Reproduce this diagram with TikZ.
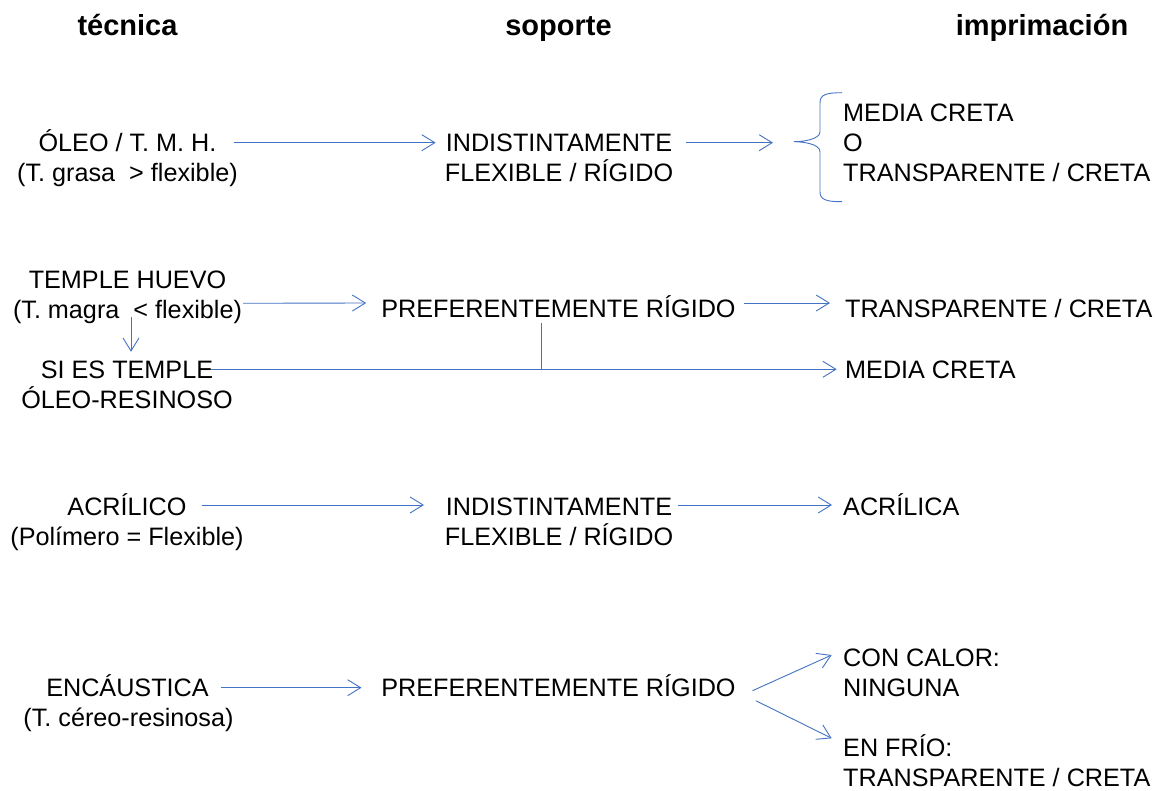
\documentclass[tikz,border=0pt]{standalone}
\usepackage{fontspec}
\setmainfont{Liberation Sans}
\usetikzlibrary{arrows.meta,calc}
\definecolor{arrowblue}{RGB}{68,114,196}
\newcommand\myBody{\fontsize{25.2}{30}\selectfont}
\newcommand\myHead{\fontsize{29}{32}\selectfont\bfseries}
\begin{document}
\begin{tikzpicture}[x=1pt,y=-1pt,
  txt/.style={inner sep=0pt, anchor=base, font=\myBody},
  txtw/.style={inner sep=0pt, anchor=base west, font=\myBody},
  hdr/.style={inner sep=0pt, anchor=base, font=\myHead},
  ln/.style={draw=arrowblue, line width=0.9pt},
  arr/.style={ln, -{Straight Barb[length=13pt,width=16pt]}}]
\useasboundingbox[fill=white] (0,0) rectangle (1157,791);

% headers
\node[hdr] (h1) at (127.5,36) {técnica};
\node[hdr] (h2) at (558.5,36) {soporte};
\node[hdr] (h3) at (1042,36) {imprimación};

% row 1
\node[txt] (t1a) at (127.5,151.7) {ÓLEO / T. M. H.};
\node[txt] (t1b) at (127.5,181.7) {(T. grasa\ \ > flexible)};
\node[txt] (s1a) at (559,151.7) {INDISTINTAMENTE};
\node[txt] (s1b) at (559,181.7) {FLEXIBLE / RÍGIDO};
\node[txtw] (i1a) at (843,121.7) {MEDIA CRETA};
\node[txtw] (i1b) at (843,151.7) {O};
\node[txtw] (i1c) at (843,181.7) {TRANSPARENTE / CRETA};
\draw[arr] ($(t1b.east |- t1a.base)+(-4,-9)$) -- ($(s1a.base west)+(-10,-9)$);
\draw[arr] ($(s1a.base east)+(14,-9)$) -- ($(i1b.base west)+(-70,-9)$);
% brace
\draw[ln] ($(i1a.base west)+(-1,-29)$)
  .. controls +(-16,0) and +(0,-8) .. ++(-22,10) -- ++(0,29)
  .. controls +(0,8) and +(8,0) .. ++(-26,10)
  .. controls +(8,0) and +(0,-8) .. ++(26,10) -- ++(0,40)
  .. controls +(0,8) and +(-16,0) .. ++(22,10);

% row 2
\node[txt] (t2a) at (127.5,288.3) {TEMPLE HUEVO};
\node[txt] (t2b) at (127.5,318.3) {(T. magra\ \ < flexible)};
\node[txt] (t2c) at (127,378.3) {SI ES TEMPLE};
\node[txt] (t2d) at (127,408.3) {ÓLEO-RESINOSO};
\node[txt] (s2) at (558.5,318) {PREFERENTEMENTE RÍGIDO};
\node[txtw] (i2a) at (845,318) {TRANSPARENTE / CRETA};
\node[txtw] (i2b) at (845,378.3) {MEDIA CRETA};
\draw[arr] ($(t2b.base east)+(1,-15)$) -- ($(s2.base west)+(-15,-15)$);
\draw[arr] ($(s2.base east)+(8,-15)$) -- ($(i2a.base west)+(-15,-15)$);
\draw[arr] ($(t2b.base)+(3.5,-1)$) -- ($(t2c.base)+(4,-26.5)$);
\draw[arr] ($(t2c.base east)+(-2,-9)$) -- ($(i2b.base west)+(-8.3,-9)$);
\draw[ln] ($(s2.base)+(-17.5,5)$) -- ($(s2.base)+(-17.5,51.3)$);

% row 3
\node[txt] (t3a) at (127,515) {ACRÍLICO};
\node[txt] (t3b) at (127,545) {(Polímero = Flexible)};
\node[txt] (s3a) at (559,515) {INDISTINTAMENTE};
\node[txt] (s3b) at (559,545) {FLEXIBLE / RÍGIDO};
\node[txtw] (i3) at (843,515) {ACRÍLICA};
\draw[arr] ($(t3a.base east)+(15,-10)$) -- ($(s3a.base west)+(-21.7,-10)$);
\draw[arr] ($(s3a.base east)+(6,-10)$) -- ($(i3.base west)+(-11,-10)$);

% row 4
\node[txt] (t4a) at (127.5,696) {ENCÁUSTICA};
\node[txt] (t4b) at (128.5,726) {(T. céreo-resinosa)};
\node[txt] (s4) at (558.5,696) {PREFERENTEMENTE RÍGIDO};
\node[txtw] (i4a) at (843,666.6) {CON CALOR:};
\node[txtw] (i4b) at (843,696.6) {NINGUNA};
\node[txtw] (i4c) at (843,756.6) {EN FRÍO:};
\node[txtw] (i4d) at (843,786.6) {TRANSPARENTE / CRETA};
\draw[arr] ($(t4a.base east)+(12,-8.3)$) -- ($(s4.base west)+(-19.7,-8.3)$);
\draw[arr] ($(s4.base east)+(16.7,-5.3)$) -- ($(i4a.base west)+(-11.3,-11.6)$);
\draw[arr] ($(s4.base east)+(20,4.7)$) -- ($(i4c.base west)+(-11.3,-18.3)$);
\end{tikzpicture}
\end{document}
